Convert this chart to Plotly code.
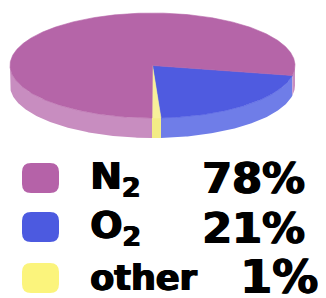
import numpy as np
import plotly.graph_objects as go

# ---- data ----
labels = ["O2", "other", "N2"]          # clockwise order starting at start angle
values = [21, 1, 78]
top_colors = ["#4f5be0", "#f7f09a", "#b565a8"]
side_colors = ["#6f7de8", "#f3ec86", "#c88dc0"]
legend_names = ["N<sub>2</sub>", "O<sub>2</sub>", "other"]
legend_pcts = ["78%", "21%", "1%"]
legend_colors = ["#b562a8", "#4c5ae0", "#fbf47c"]

START_DEG = 11.0
CX, CY, RX, RY, DEPTH = 152.5, 65.5, 142.5, 52.5, 20.0
OFF = 8  # page body margin

fig = go.Figure()

total = float(sum(values))
angles = []
a = START_DEG
for v in values:
    b = a + 360.0 * v / total
    angles.append((a, b))
    a = b

def arc(a0, a1, n=120, dy=0.0):
    t = np.radians(np.linspace(a0, a1, n))
    return CX + RX * np.cos(t), CY + dy + RY * np.sin(t)

# sides (visible front half: parametric angle 0..180 mod 360)
for (a0, a1), col in zip(angles, side_colors):
    for k in (0, 360):
        lo, hi = max(a0, k + 0), min(a1, k + 180)
        if hi > lo:
            xt, yt = arc(lo, hi)
            xb, yb = arc(hi, lo, dy=DEPTH)
            fig.add_trace(go.Scatter(x=np.r_[xt, xb], y=np.r_[yt, yb], fill="toself",
                                     fillcolor=col, line=dict(width=0), mode="lines",
                                     hoverinfo="skip", showlegend=False))

# tops
for (a0, a1), col, lab in zip(angles, top_colors, labels):
    xt, yt = arc(a0, a1, n=max(4, int((a1 - a0) * 2)))
    fig.add_trace(go.Scatter(x=np.r_[CX, xt, CX], y=np.r_[CY, yt, CY], fill="toself",
                             fillcolor=col, line=dict(width=0.6, color=col), mode="lines",
                             name=lab, hoverinfo="name", showlegend=False))

# legend
rows_y = [178, 227, 278]
shapes = []
for yc, col in zip(rows_y, legend_colors):
    x0, x1, y0, y1, r = 22, 59, yc - 15, yc + 15, 9
    path = (f"M {x0+r},{y0} L {x1-r},{y0} Q {x1},{y0} {x1},{y0+r} L {x1},{y1-r} "
            f"Q {x1},{y1} {x1-r},{y1} L {x0+r},{y1} Q {x0},{y1} {x0},{y1-r} "
            f"L {x0},{y0+r} Q {x0},{y0} {x0+r},{y0} Z")
    shapes.append(dict(type="path", path=path, xref="x", yref="y",
                       fillcolor=col, line=dict(width=0), layer="above"))

SHADOW = "1px 0px 0px #000, -0.6px 0px 0px #000"
annotations = []
name_sizes = [38, 38, 35]
pct_sizes = [43, 43, 46]
pct_right = [306, 306, 319]
pct_y = [178, 228, 277]
for yc, nm, pct, ns, ps, pr, py in zip(rows_y, legend_names, legend_pcts, name_sizes,
                                       pct_sizes, pct_right, pct_y):
    annotations.append(dict(x=88, y=yc, xref="x", yref="y", text=f"<b>{nm}</b>",
                            xanchor="left", yanchor="middle", showarrow=False,
                            font=dict(family="DejaVu Sans", size=ns, color="black",
                                      shadow=SHADOW)))
    annotations.append(dict(x=pr, y=py, xref="x", yref="y", text=f"<b>{pct}</b>",
                            xanchor="right", yanchor="middle", showarrow=False,
                            borderpad=0,
                            font=dict(family="DejaVu Sans", size=ps, color="black",
                                      shadow=SHADOW)))

fig.update_layout(
    width=326 - OFF, height=298 - OFF, margin=dict(l=0, r=0, t=0, b=0),
    paper_bgcolor="white", plot_bgcolor="white",
    xaxis=dict(range=[OFF, 326], visible=False, fixedrange=True),
    yaxis=dict(range=[298, OFF], visible=False, fixedrange=True),
    shapes=shapes, annotations=annotations, showlegend=False,
)
fig.write_html("out.html", config={"displayModeBar": False})
